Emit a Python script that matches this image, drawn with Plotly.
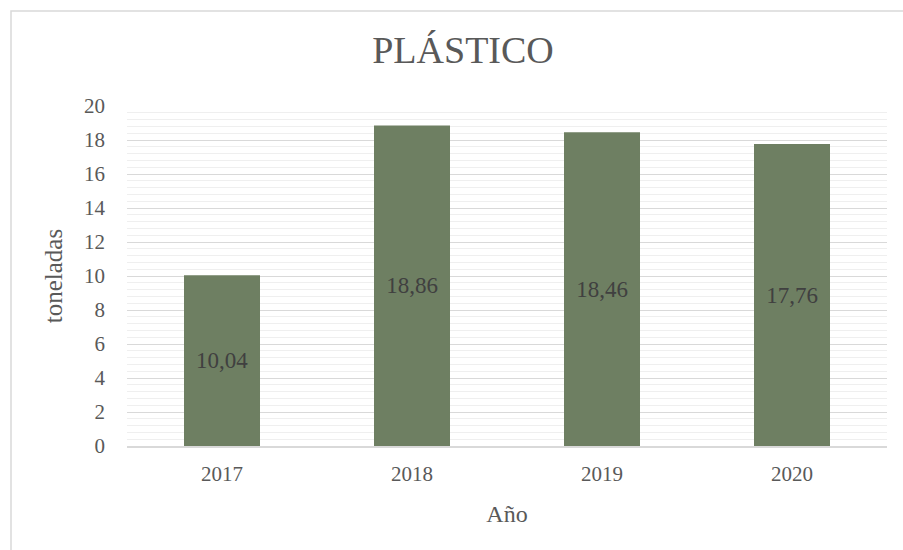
import plotly.graph_objects as go

years = ["2017", "2018", "2019", "2020"]
values = [10.04, 18.86, 18.46, 17.76]
labels = ["10,04", "18,86", "18,46", "17,76"]
y_ticks = [0, 2, 4, 6, 8, 10, 12, 14, 16, 18, 20]

FONT = "Liberation Serif, DejaVu Serif, serif"
W, H = 903, 550
L, R, T, B = 127, 16, 106, 104

fig = go.Figure(go.Bar(
    x=years, y=values, text=labels,
    textposition="inside", insidetextanchor="middle",
    textfont=dict(family=FONT, size=23, color="#404040"),
    marker=dict(color="#6e7f62", line=dict(color="#6e7f62", width=0)),
    width=0.4, cliponaxis=False,
))

pw = W - L - R
ph = H - T - B
fig.add_shape(type="rect", xref="paper", yref="paper",
              x0=(11 - L) / pw, x1=(W + 20 - L) / pw,
              y0=-(H + 20 - T - ph) / ph, y1=1 + (T - 11) / ph,
              line=dict(color="#d9d9d9", width=1.5), layer="below")

fig.update_layout(
    width=W, height=H,
    margin=dict(l=L, r=R, t=T, b=B),
    paper_bgcolor="white", plot_bgcolor="white",
    title=dict(text="PLÁSTICO", x=463 / W, xanchor="center", y=1 - 50 / H, yanchor="middle",
               font=dict(family=FONT, size=38, color="#595959")),
    font=dict(family=FONT, color="#595959"),
    showlegend=False,
    xaxis=dict(
        title=dict(text="Año", font=dict(family=FONT, size=24, color="#595959"), standoff=20),
        tickfont=dict(family=FONT, size=21, color="#595959"),
        showline=True, linecolor="#d9d9d9", linewidth=1.5,
        showgrid=False, ticks="", ticklabelstandoff=8,
    ),
    yaxis=dict(
        title=dict(text="toneladas", font=dict(family=FONT, size=25, color="#595959"), standoff=14),
        tickfont=dict(family=FONT, size=21, color="#595959"),
        range=[0, 20], tickvals=y_ticks,
        showgrid=True, gridcolor="#d9d9d9", gridwidth=1.2,
        minor=dict(dtick=0.4, showgrid=True, gridcolor="#efefef", gridwidth=1),
        zeroline=False, ticks="", ticklabelstandoff=21,
    ),
)

fig.write_html("out.html")
